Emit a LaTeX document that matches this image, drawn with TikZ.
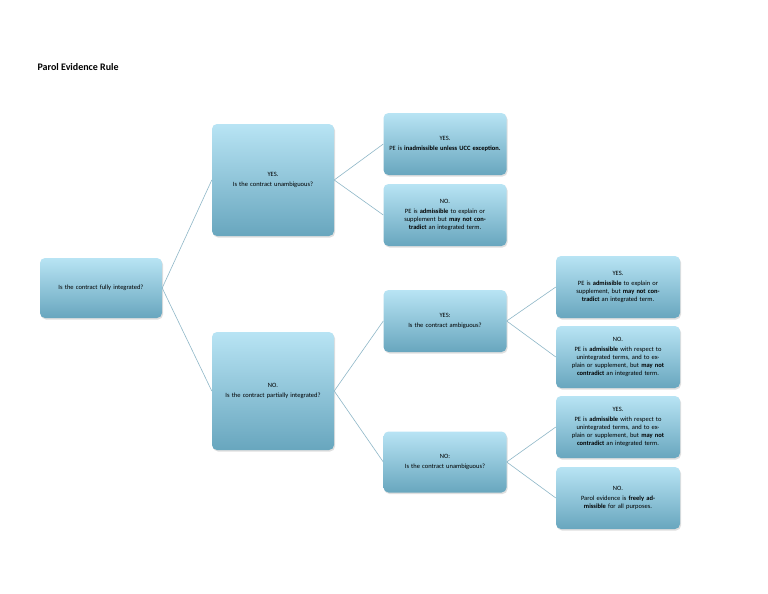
\documentclass[tikz,border=0pt]{standalone}
\usepackage{fontspec}
\setmainfont{Carlito}
\usetikzlibrary{shadows}
\definecolor{topc}{HTML}{B8E4F4}
\definecolor{botc}{HTML}{68A6BE}
\definecolor{edgec}{HTML}{8FB8C8}
\tikzset{
  box/.style={rounded corners=5pt, top color=topc, bottom color=botc, draw=none,
    drop shadow={opacity=0.25, shadow xshift=1pt, shadow yshift=-1.5pt},
    align=center, font=\fontsize{6.5}{8}\selectfont, inner sep=2pt},
  conn/.style={draw=edgec, line width=0.6pt}
}
\newcommand{\bx}[5]{\node[box, minimum width=#3pt, minimum height=#4pt, text width=#3pt-6pt] (#1) at #2 {#5};}
\begin{document}
\begin{tikzpicture}[x=1pt,y=-1pt]
\useasboundingbox[fill=white] (0,0) rectangle (768,594);
\node[anchor=west, font=\bfseries\fontsize{10}{12}\selectfont] (title) at (34,67) {Parol Evidence Rule};
\bx{root}{(101,288)}{122}{60}{Is the contract fully integrated?}
\bx{yes}{(273,180)}{122}{112}{YES.\\[2pt]Is the contract unambiguous?}
\bx{no}{(273,391)}{122}{118}{NO.\\[2pt]Is the contract partially integrated?}
\bx{yy}{(445,144)}{123}{62}{YES.\\[2pt]PE is \textbf{inadmissible unless UCC exception.}}
\bx{yn}{(445,215)}{123}{62}{NO.\\[2pt]PE is \textbf{admissible} to explain or supplement but \textbf{may not contradict} an integrated term.}
\bx{ny}{(445,321)}{123}{62}{YES:\\[2pt]Is the contract ambiguous?}
\bx{nn}{(445,462)}{123}{61}{NO:\\[2pt]Is the contract unambiguous?}
\bx{l1}{(618,287)}{124}{62}{YES.\\[2pt]PE is \textbf{admissible} to explain or supplement, but \textbf{may not contradict} an integrated term.}
\bx{l2}{(618,357)}{124}{62}{NO.\\[2pt]PE is \textbf{admissible} with respect to unintegrated terms, and to explain or supplement, but \textbf{may not contradict} an integrated term.}
\bx{l3}{(618,427)}{124}{62}{YES.\\[2pt]PE is \textbf{admissible} with respect to unintegrated terms, and to explain or supplement, but \textbf{may not contradict} an integrated term.}
\bx{l4}{(618,498)}{124}{62}{NO.\\[2pt]Parol evidence is \textbf{freely admissible} for all purposes.}
\foreach \a/\b in {root/yes,root/no,yes/yy,yes/yn,no/ny,no/nn,ny/l1,ny/l2,nn/l3,nn/l4}
  \draw[conn] (\a.east) -- (\b.west);
\end{tikzpicture}
\end{document}
